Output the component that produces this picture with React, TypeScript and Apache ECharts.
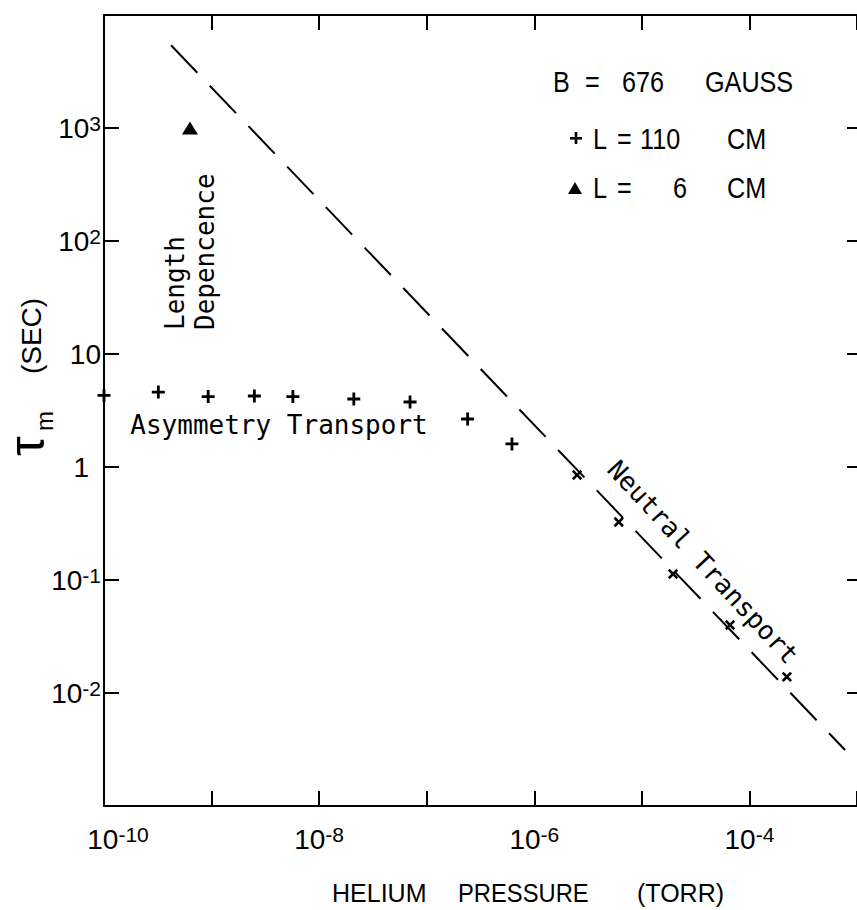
import React, { useEffect, useRef } from "react";
import * as echarts from "echarts";

// ---- data ----
// L = 110 CM, "asymmetry transport" plateau (plus markers)
const asymPressure = [1.0e-10, 3.2e-10, 9.3e-10, 2.5e-9, 5.7e-9, 2.1e-8, 7.0e-8, 2.4e-7, 6.2e-7];
const asymTau = [4.3, 4.6, 4.2, 4.25, 4.2, 4.0, 3.76, 2.66, 1.6];
// L = 110 CM, "neutral transport" points on the dashed line (x markers)
const neutralPressure = [2.5e-6, 6.1e-6, 1.95e-5, 6.6e-5, 2.23e-4];
const neutralTau = [0.85, 0.326, 0.113, 0.04, 0.0139];
// L = 6 CM (triangle)
const shortPressure = [6.3e-10];
const shortTau = [1000];
// dashed neutral-transport line (end points)
const fitPressure = [4.2e-10, 7.75e-4];
const fitTau = [5.4e3, 3.13e-3];
// labelled decades
const xLabelExponents = [-10, -8, -6, -4];
const yLabelExponents = [-2, -1, 0, 1, 2, 3];

const F_AX = '"Liberation Sans", Arial, sans-serif';
const F_TXT = '"Liberation Sans", Arial, sans-serif';
const F_MONO = '"DejaVu Sans Mono", "Liberation Mono", monospace';
const PLUS = "path://M4.7,0H7.3V4.7H12V7.3H7.3V12H4.7V7.3H0V4.7H4.7Z";

const pairs = (xs: number[], ys: number[]) => xs.map((x, i) => [x, ys[i]]);
const expOf = (v: number) => Math.round(Math.log10(v));

const richLabels = {
  b: { fontSize: 28, lineHeight: 30, fontFamily: F_AX, color: "#000" },
  b0: { fontSize: 28, lineHeight: 30, fontFamily: F_AX, color: "#000", padding: [0, 0, 0, 28] },
  one: { fontSize: 28, lineHeight: 30, fontFamily: F_AX, color: "#000", padding: [0, 12, 0, 0] },
  s: { fontSize: 21, lineHeight: 12, verticalAlign: "top", fontFamily: F_AX, color: "#000" },
};

const xFormatter = (v: number) => {
  const e = expOf(v);
  if (!xLabelExponents.includes(e)) return "";
  return e === -10 ? `{b0|10}{s|${e}}` : `{b|10}{s|${e}}`;
};
const yFormatter = (v: number) => {
  const e = expOf(v);
  if (!yLabelExponents.includes(e)) return "";
  if (e === 0) return "{one|1}";
  if (e === 1) return "{b|10}";
  return `{b|10}{s|${e}}`;
};

const axisLine = { show: true, onZero: false, lineStyle: { color: "#000", width: 2 } };
const tick = (len: number) => ({ show: true, inside: true, length: len, lineStyle: { color: "#000", width: 2 } });

export default function App() {
  const ref = useRef<HTMLDivElement>(null);
  useEffect(() => {
    if (!ref.current) return;
    const chart = echarts.init(ref.current, null, { renderer: "svg" });
    const txt = (
      text: string,
      x: number,
      y: number,
      size: number,
      font: string,
      extra: any = {},
      el: any = {}
    ) => ({
      type: "text",
      x,
      y,
      silent: true,
      ...el,
      style: { text, fill: "#000", fontSize: size, fontFamily: font, align: "left", verticalAlign: "middle", ...extra },
    });
    const leg = (text: string, x: number, y: number) => txt(text, x, y, 30, F_TXT, {}, { scaleX: 0.84 });
    chart.setOption({
      animation: false,
      backgroundColor: "#fff",
      grid: { left: 104, right: 0, top: 15, bottom: 104, containLabel: false, outerBoundsMode: "none" },
      xAxis: [
        {
          type: "log",
          logBase: 10,
          min: 1e-10,
          max: 1e-3,
          position: "bottom",
          axisLine,
          axisTick: tick(15),
          axisLabel: { show: true, margin: 18, formatter: xFormatter, rich: richLabels, color: "#000" },
          splitLine: { show: false },
          minorTick: { show: false },
          minorSplitLine: { show: false },
        },
        {
          type: "log",
          logBase: 10,
          min: 1e-10,
          max: 1e-3,
          position: "top",
          axisLine,
          axisTick: tick(15),
          axisLabel: { show: false },
          splitLine: { show: false },
        },
      ],
      yAxis: [
        {
          type: "log",
          logBase: 10,
          min: 1e-3,
          max: 1e4,
          position: "left",
          axisLine,
          axisTick: tick(15),
          axisLabel: { show: true, margin: 3, formatter: yFormatter, rich: richLabels, color: "#000" },
          splitLine: { show: false },
          minorTick: { show: false },
        },
        {
          type: "log",
          logBase: 10,
          min: 1e-3,
          max: 1e4,
          position: "right",
          axisLine: { show: false },
          axisTick: tick(10),
          axisLabel: { show: false },
          splitLine: { show: false },
        },
      ],
      series: [
        {
          type: "line",
          name: "Neutral transport",
          data: pairs(fitPressure, fitTau),
          showSymbol: false,
          symbol: "none",
          silent: true,
          lineStyle: { color: "#000", width: 2, type: [38, 18], opacity: 1 },
          z: 1,
        },
        {
          type: "scatter",
          name: "L = 110 CM",
          data: pairs(asymPressure, asymTau),
          symbol: PLUS,
          symbolSize: 13,
          itemStyle: { color: "#000", opacity: 1 },
          silent: true,
          z: 3,
        },
        {
          type: "scatter",
          name: "L = 110 CM ",
          data: pairs(neutralPressure, neutralTau),
          symbol: PLUS,
          symbolSize: 12,
          symbolRotate: 45,
          itemStyle: { color: "#000", opacity: 1 },
          silent: true,
          z: 3,
        },
        {
          type: "scatter",
          name: "L = 6 CM",
          data: pairs(shortPressure, shortTau),
          symbol: "triangle",
          symbolSize: [16, 13],
          itemStyle: { color: "#000", opacity: 1 },
          silent: true,
          z: 3,
        },
      ],
      graphic: [
        // legend block
        leg("B", 553, 82),
        leg("=", 585, 82),
        leg("676", 622, 82),
        leg("GAUSS", 705, 82),
        { type: "rect", silent: true, shape: { x: 570, y: 137, width: 12, height: 2.6 }, style: { fill: "#000" } },
        { type: "rect", silent: true, shape: { x: 574.7, y: 132, width: 2.6, height: 12 }, style: { fill: "#000" } },
        leg("L", 593, 139),
        leg("=", 617, 139),
        leg("110", 640, 139),
        leg("CM", 727, 139),
        {
          type: "polygon",
          silent: true,
          shape: { points: [[575, 182], [568, 194], [582, 194]] },
          style: { fill: "#000" },
        },
        leg("L", 593, 188),
        leg("=", 617, 188),
        leg("6", 673, 188),
        leg("CM", 727, 188),
        // annotations
        txt("Asymmetry Transport", 279, 425, 26, F_MONO, { align: "center" }),
        txt("Length\nDepencence", 190, 330, 26, F_MONO, { lineHeight: 30 }, { rotation: Math.PI / 2 }),
        txt("Neutral Transport", 703, 562, 26, F_MONO, { align: "center" }, { rotation: -0.822 }),
        // y axis title
        txt("(SEC)", 31, 336, 28, F_TXT, { align: "center" }, { rotation: Math.PI / 2 }),
        txt("τ", 27, 446, 50, F_TXT, { align: "center" }, { rotation: Math.PI / 2 }),
        txt("m", 44, 421, 24, F_TXT, { align: "center" }, { rotation: Math.PI / 2 }),
        // x axis title
        txt("HELIUM", 332, 893, 25, F_TXT),
        txt("PRESSURE", 458, 893, 25, F_TXT, {}, { scaleX: 0.95 }),
        txt("(TORR)", 637, 893, 25, F_TXT),
      ],
    });
    return () => chart.dispose();
  }, []);
  return (
    <div
      ref={ref}
      style={{ position: "fixed", left: 0, top: 0, width: 857, height: 910, background: "#fff" }}
    />
  );
}
